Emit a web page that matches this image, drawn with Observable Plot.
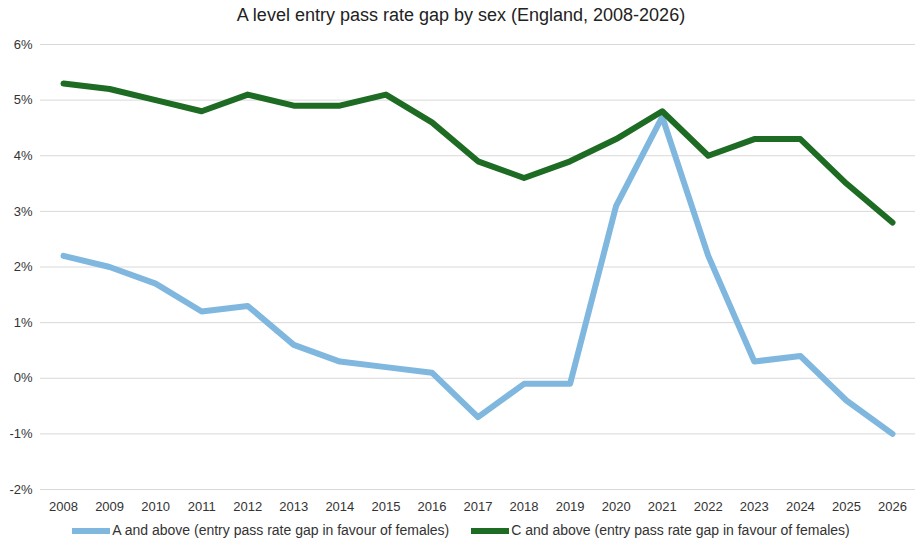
<!DOCTYPE html>
<html><head><meta charset="utf-8">
<script src="https://cdn.jsdelivr.net/npm/d3@7"></script>
<script src="https://cdn.jsdelivr.net/npm/@observablehq/plot@0.6"></script>
<style>
body{margin:0;background:#fff;font-family:"Liberation Sans",Arial,sans-serif;}
#title{text-align:center;font-size:18px;color:#222;height:30px;line-height:30px;}
#legend{display:flex;justify-content:center;gap:22px;font-size:14px;color:#333;margin-top:4px;}
.sw{display:inline-block;width:38px;height:6px;vertical-align:middle;margin-right:2px;}
</style></head><body>
<div id="title">A level entry pass rate gap by sex (England, 2008-2026)</div>
<div id="chart"></div>
<div id="legend">
<span><span class="sw" style="background:#7fb7df"></span>A and above (entry pass rate gap in favour of females)</span>
<span><span class="sw" style="background:#1e6b24"></span>C and above (entry pass rate gap in favour of females)</span>
</div>
<script>
const years = [2008,2009,2010,2011,2012,2013,2014,2015,2016,2017,2018,2019,2020,2021,2022,2023,2024,2025,2026];
const aAbove = [2.2,2.0,1.7,1.2,1.3,0.6,0.3,0.2,0.1,-0.7,-0.1,-0.1,3.1,4.7,2.2,0.3,0.4,-0.4,-1.0];
const cAbove = [5.3,5.2,5.0,4.8,5.1,4.9,4.9,5.1,4.6,3.9,3.6,3.9,4.3,4.8,4.0,4.3,4.3,3.5,2.8];
const yTicks = [-2,-1,0,1,2,3,4,5,6];
const data = [
  ...years.map((y,i)=>({year:y,value:aAbove[i],s:"A"})),
  ...years.map((y,i)=>({year:y,value:cAbove[i],s:"C"}))
];
const plot = Plot.plot({
  width:922, height:488,
  marginTop:14, marginBottom:29, marginLeft:40, marginRight:7,
  style:{fontFamily:"Liberation Sans, Arial, sans-serif",fontSize:"13px",color:"#333"},
  x:{domain:[2007.5,2026.5],ticks:years,tickFormat:"d",tickSize:0,label:null,tickPadding:12},
  y:{domain:[-2,6],ticks:yTicks,tickFormat:d=>d+"%",tickSize:0,label:null,tickPadding:8},
  color:{domain:["A","C"],range:["#7fb7df","#1e6b24"]},
  marks:[
    Plot.gridY(yTicks,{stroke:"#d9d9d9",strokeOpacity:1}),
    Plot.line(data,{x:"year",y:"value",z:"s",stroke:"s",strokeWidth:6,strokeLinejoin:"round"}),
    Plot.axisX({ticks:years,tickFormat:"d",tickSize:0,tickPadding:12,label:null}),
    Plot.axisY({ticks:yTicks,tickFormat:d=>d+"%",tickSize:0,tickPadding:8,label:null})
  ]
});
document.getElementById("chart").appendChild(plot);
</script>
</body></html>
